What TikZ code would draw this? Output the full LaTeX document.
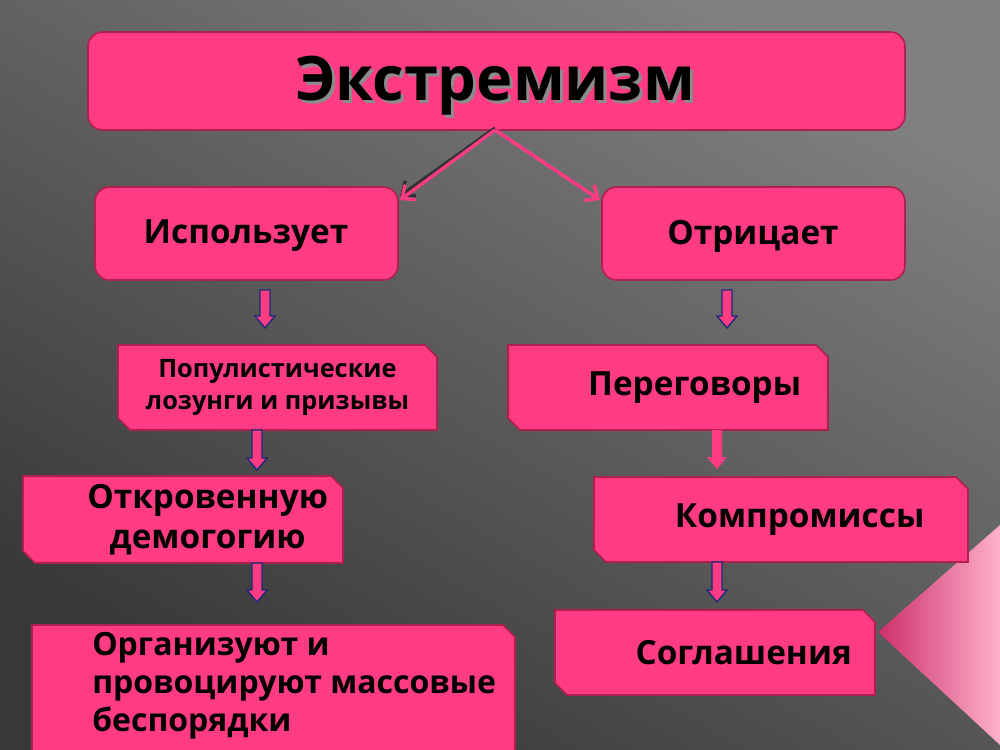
\documentclass[tikz,border=0pt]{standalone}
\usepackage{fontspec}
\setmainfont{Open Sans}
\usetikzlibrary{positioning,arrows.meta}
\definecolor{hotpink}{HTML}{FF3C83}
\definecolor{boxedge}{HTML}{B0204E}
\definecolor{arrowblue}{HTML}{1A2A7A}
\newcommand{\snipbox}[7]{% name, x1, y1, x2, y2, font size, text
  \fill[hotpink,draw=boxedge,line width=1.2pt]
    (#2,#3) -- (#4-12,#3) -- (#4,#3+12) -- (#4,#5) -- (#2+12,#5) -- (#2,#5-12) -- cycle;
  \node[txt,font=\bfseries\fontsize{#6}{30}\selectfont,minimum width=(#4-#2)*0.75pt,minimum height=(#5-#3)*0.75pt]
    (#1) at ({(#2+#4)/2},{(#3+#5)/2}) {#7};}
\newcommand{\blockarrow}[3]{% x, y top, y bottom
  \fill[hotpink,draw=arrowblue,line width=1pt]
    (#1-5,#2) -- (#1+5,#2) -- (#1+5,#3-12) -- (#1+10,#3-12) -- (#1,#3) -- (#1-10,#3-12) -- (#1-5,#3-12) -- cycle;}
\begin{document}
\begin{tikzpicture}[x=0.75pt,y=-0.75pt,
    txt/.style={align=center,font=\bfseries,text=black,inner sep=0pt},
    roundbox/.style={fill=hotpink,draw=boxedge,line width=1.2pt,rounded corners=11pt},
    split/.style={draw=hotpink,line width=2.5pt,-{Straight Barb[length=8pt,width=14pt]}}
  ]
  \shade[top color=black!50,bottom color=black!78,shading angle=-30] (0,0) rectangle (1000,750);
  \useasboundingbox (0,0) rectangle (1000,750);
  \shade[left color=hotpink!80!black,right color=hotpink!40!white] (878,632) -- (1000,525) -- (1000,745) -- cycle;
  % top
  \draw[roundbox] (88,32) rectangle (905,130);
  \node[txt,font=\bfseries\fontsize{46}{50}\selectfont,text=black!45] at (498,89) {Экстремизм};
  \node[txt,font=\bfseries\fontsize{46}{50}\selectfont] (extr) at (495,86) {Экстремизм};
  \coordinate (fork) at (495,130);
  % second row
  \draw[roundbox] (95,187) rectangle (398,280);
  \node[txt,font=\bfseries\fontsize{25}{30}\selectfont] (uses) at (246,236) {Использует};
  \draw[roundbox] (602,187) rectangle (905,280);
  \node[txt,font=\bfseries\fontsize{25}{30}\selectfont] (denies) at (753,236) {Отрицает};
  \coordinate (ul) at (400,200);
  \coordinate (ur) at (600,200);
  \draw[split,draw=black!80] (fork) ++(0,-2) -- ++(-95,68);
  \draw[split] (fork) -- (ul);
  \draw[split] (fork) -- (ur);
  % left column
  \snipbox{popul}{118}{345}{437}{430}{19}{Популистические\\[-6pt]лозунги и призывы}
  \snipbox{demog}{23}{476}{343}{563}{25}{\hspace*{37pt}Откровенную\\\hspace*{37pt}демогогию}
  \snipbox{riots}{32}{625}{515}{770}{24}{}
  \node[txt,align=left,anchor=north west,font=\bfseries\fontsize{24}{28.5}\selectfont] (riotstxt) at (92,632) {Организуют и\\провоцируют массовые\\беспорядки};
  % right column
  \snipbox{talks}{508}{345}{828}{430}{25}{\hspace*{40pt}Переговоры}
  \snipbox{compr}{594}{477}{968}{562}{25}{\hspace*{28pt}Компромиссы}
  \snipbox{agree}{555}{610}{875}{695}{25}{\hspace*{43pt}Соглашения}
  % block arrows
  \blockarrow{265}{290}{328}
  \blockarrow{257}{430}{470}
  \blockarrow{257}{563}{602}
  \blockarrow{727}{290}{328}
  \fill[hotpink] (712,430) -- (722,430) -- (722,457) -- (727,457) -- (717,469) -- (707,457) -- (712,457) -- cycle;
  \blockarrow{717}{562}{602}
\end{tikzpicture}
\end{document}
